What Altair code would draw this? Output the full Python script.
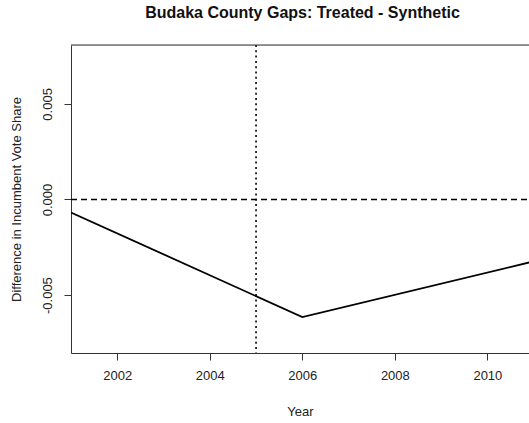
import altair as alt
import pandas as pd

# Election years and treated-minus-synthetic gap in incumbent vote share
years = [2001, 2006, 2011]
gaps = [-0.00068, -0.00615, -0.00324]
treatment_year = [2005]
x_ticks = [2002, 2004, 2006, 2008, 2010]
y_ticks = [-0.005, 0.0, 0.005]

W, H = 458, 308
FONT = "Liberation Sans"
INK = "#222222"
FRAME = "#333333"

x_scale = alt.Scale(domain=[2001, 2010.9], nice=False, zero=False)
y_scale = alt.Scale(domain=[-0.00803, 0.00808], nice=False, zero=False)

gap_df = pd.DataFrame({"year": years, "gap": gaps})
treat_df = pd.DataFrame({"year": treatment_year})
zero_df = pd.DataFrame({"gap": [0.0]})
dummy_df = pd.DataFrame({"a": [0]})

x_axis = alt.Axis(
    values=x_ticks, format="d", title="Year", grid=False,
    tickSize=7, labelPadding=9, labelFontSize=13, titleFontSize=13,
    titleFontWeight="normal", domainColor=FRAME, tickColor=FRAME,
    labelColor=INK, titleColor=INK, titleY=58, titleBaseline="middle",
    labelFlush=False,
)
y_axis = alt.Axis(
    values=y_ticks, title="Difference in Incumbent Vote Share", grid=False,
    labelExpr="replace(format(datum.value, '.3f'), '\u2212', '-')",
    tickSize=7, labelPadding=10, labelAngle=270, labelAlign="center",
    labelBaseline="bottom", labelFontSize=13, titleFontSize=13,
    titleFontWeight="normal", domainColor=FRAME, tickColor=FRAME,
    labelColor=INK, titleColor=INK, titleX=-55, titleBaseline="middle",
    labelFlush=False,
)

# Gap series
gap_line = alt.Chart(gap_df).mark_line(color="black", strokeWidth=1.8, clip=True).encode(
    x=alt.X("year:Q", scale=x_scale, axis=x_axis),
    y=alt.Y("gap:Q", scale=y_scale, axis=y_axis),
)

# Dashed reference line at zero
zero_line = alt.Chart(zero_df).mark_rule(
    color="black", strokeWidth=1.6, strokeDash=[6, 4]
).encode(
    y=alt.Y("gap:Q", scale=y_scale, axis=y_axis),
    x=alt.value(0), x2=alt.value(W),
)

# Dotted marker for the treatment year
treat_line = alt.Chart(treat_df).mark_rule(
    color="black", strokeWidth=1.6, strokeDash=[2, 3.3]
).encode(
    x=alt.X("year:Q", scale=x_scale, axis=x_axis),
    y=alt.value(0), y2=alt.value(H),
)

# Top edge of the plot frame
top_edge = alt.Chart(dummy_df).mark_rule(color=FRAME, strokeWidth=1).encode(
    x=alt.value(0), x2=alt.value(W), y=alt.value(0),
)

chart = alt.layer(gap_line, zero_line, treat_line, top_edge).properties(
    width=W, height=H,
    title=alt.TitleParams(
        "Budaka County Gaps: Treated - Synthetic", font=FONT, fontSize=16,
        fontWeight="bold", color="#111111", anchor="middle",
        offset=23, dx=2.5,
    ),
    autosize=alt.AutoSizeParams(type="none"),
    padding={"left": 71, "top": 45, "right": 0, "bottom": 70},
).configure_view(stroke=None).configure_axis(
    labelFont=FONT, titleFont=FONT
).configure(background="white")

chart.save("out.html", embed_options={"renderer": "svg", "actions": False})
